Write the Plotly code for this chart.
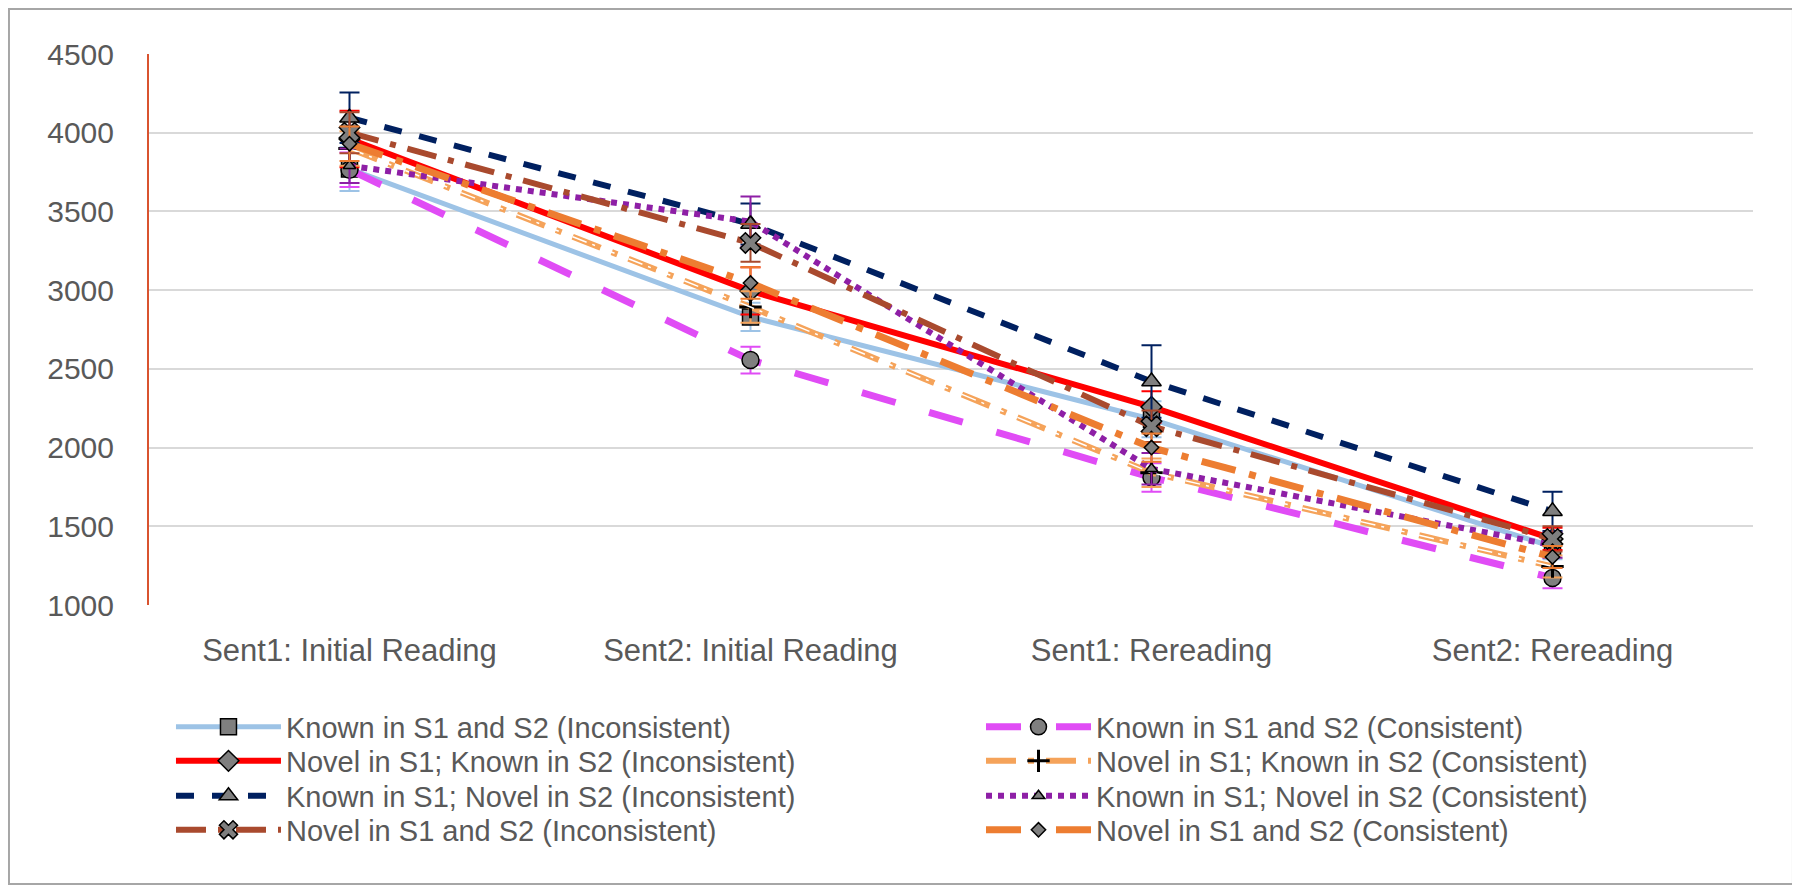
import plotly.graph_objects as go

# categories on the x axis
stages = ["Sent1: Initial Reading", "Sent2: Initial Reading", "Sent1: Rereading", "Sent2: Rereading"]

# series names
names = [
    "Known in S1 and S2 (Inconsistent)",
    "Known in S1 and S2 (Consistent)",
    "Novel in S1; Known in S2 (Inconsistent)",
    "Novel in S1; Known in S2 (Consistent)",
    "Known in S1; Novel in S2 (Inconsistent)",
    "Known in S1; Novel in S2 (Consistent)",
    "Novel in S1 and S2 (Inconsistent)",
    "Novel in S1 and S2 (Consistent)",
]

# reading times
known_inc = [3770, 2830, 2180, 1370]
known_con = [3765, 2556, 1810, 1172]
novel_known_inc = [3960, 2995, 2258, 1420]
novel_known_con = [3900, 2893, 1840, 1245]
known_novel_inc = [4095, 3420, 2420, 1595]
known_novel_con = [3790, 3435, 1865, 1380]
novel_inc = [4000, 3300, 2135, 1420]
novel_con = [3930, 3045, 2000, 1305]

# error bar sizes
known_inc_err = [140, 90, 115, 80]
known_con_err = [110, 85, 90, 65]
novel_known_inc_err = [180, 150, 100, 70]
novel_known_con_err = [110, 100, 90, 70]
known_novel_inc_err = [160, 130, 230, 125]
known_novel_con_err = [110, 160, 100, 80]
novel_inc_err = [130, 120, 100, 80]
novel_con_err = [110, 100, 90, 70]

values = [known_inc, known_con, novel_known_inc, novel_known_con,
          known_novel_inc, known_novel_con, novel_inc, novel_con]
errors = [known_inc_err, known_con_err, novel_known_inc_err, novel_known_con_err,
          known_novel_inc_err, known_novel_con_err, novel_inc_err, novel_con_err]

styles = [
    dict(color="#9dc3e6", width=5, dash="solid", symbol="square", size=16),
    dict(color="#e04cf5", width=7, dash="longdash", symbol="circle", size=17),
    dict(color="#ff0000", width=6, dash="solid", symbol="diamond", size=16),
    dict(color="#f5a35a", width=6, dash="longdashdot", symbol="cross-thin", size=16),
    dict(color="#002060", width=6, dash="dash", symbol="triangle-up", size=17),
    dict(color="#8e1fa6", width=6, dash="dot", symbol="triangle-up", size=11),
    dict(color="#a94a2e", width=6, dash="longdashdot", symbol="x", size=18),
    dict(color="#ed7d31", width=7, dash="longdashdot", symbol="diamond", size=11),
]

GRAY_TEXT = "#595959"
FONT = "Liberation Sans"

fig = go.Figure()
for i, (name, vals, err, st) in enumerate(zip(names, values, errors, styles)):
    leg = "legend" if i == 0 else "legend%d" % (i + 1)
    if st["symbol"] == "cross-thin":
        marker = dict(symbol="cross-thin", size=st["size"], color="black",
                      line=dict(color="black", width=3))
    else:
        marker = dict(symbol=st["symbol"], size=st["size"], color="#7f7f7f",
                      line=dict(color="black", width=1.5))
    fig.add_trace(go.Scatter(
        x=stages, y=vals, name=name, mode="lines+markers", legend=leg,
        line=dict(color=st["color"], width=st["width"], dash=st["dash"]),
        marker=marker,
        error_y=dict(type="data", array=err, visible=True,
                     color=st["color"], thickness=2, width=10),
    ))
    if st["symbol"] == "cross-thin":
        # thin white core to mimic the double line
        fig.add_trace(go.Scatter(
            x=stages, y=vals, mode="lines", showlegend=False, hoverinfo="skip",
            line=dict(color="white", width=1.5, dash=st["dash"]),
        ))

fig.update_xaxes(
    range=[-0.5, 3.5],
    showgrid=False, showline=False, ticks="",
    tickfont=dict(family=FONT, size=31, color=GRAY_TEXT),
    ticklabelstandoff=24,
)
fig.update_yaxes(
    range=[1000, 4500], dtick=500, showgrid=True,
    gridcolor="#d9d9d9", gridwidth=1.5, zeroline=False,
    showline=True, linecolor="#d9532f", linewidth=2,
    tickfont=dict(family=FONT, size=30, color=GRAY_TEXT),
    ticklabelstandoff=27,
)

# one legend per entry: two columns, four rows
col_x = [0.0137, 0.5187]
row_y = [-0.2214, -0.2831, -0.3466, -0.4083]
legends = {}
for i in range(len(names)):
    key = "legend" if i == 0 else "legend%d" % (i + 1)
    legends[key] = dict(
        x=col_x[i % 2], xanchor="left", y=row_y[i // 2], yanchor="middle",
        itemwidth=105, font=dict(family=FONT, size=29, color=GRAY_TEXT),
        bgcolor="rgba(0,0,0,0)",
    )

fig.update_layout(
    width=1792, height=883,
    margin=dict(l=141, r=47, t=46, b=286),
    plot_bgcolor="white", paper_bgcolor="white",
    font=dict(family=FONT, size=28, color=GRAY_TEXT),
    shapes=[dict(type="rect", xref="paper", yref="paper",
                 x0=-0.0873, x1=1.0249, y0=-0.5064, y1=1.0817,
                 line=dict(color="#a6a6a6", width=2))],
    **legends,
)

fig.write_html("out.html")
